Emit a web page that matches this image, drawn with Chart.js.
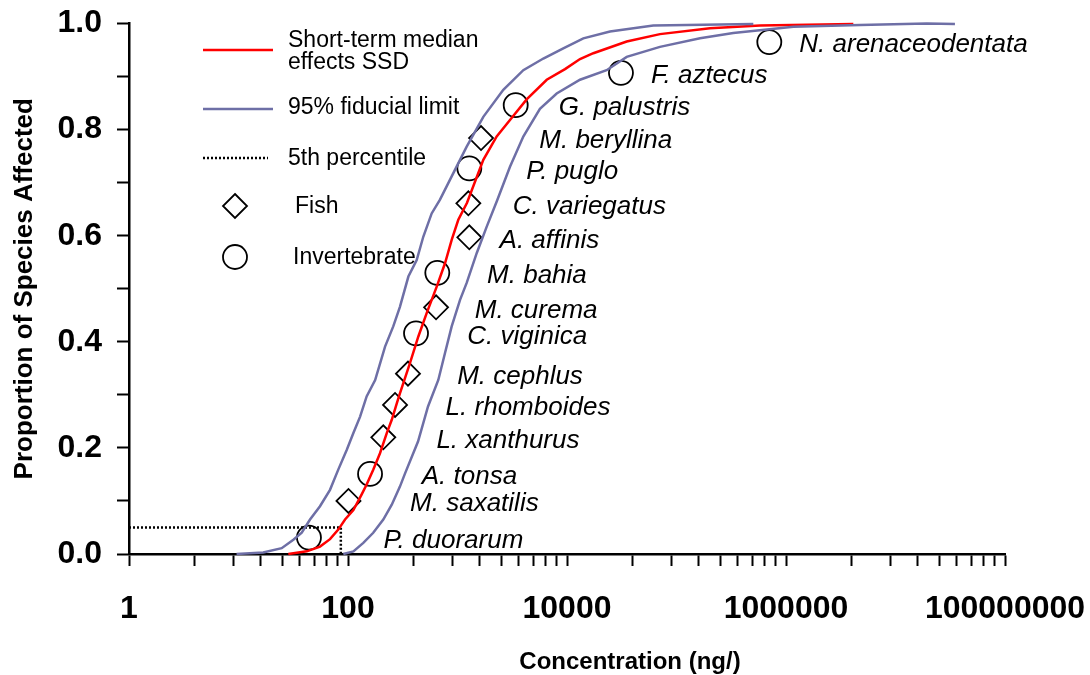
<!DOCTYPE html>
<html lang="en">
<head>
<meta charset="UTF-8">
<title>Short-term median effects SSD</title>
<script src="https://cdn.jsdelivr.net/npm/chart.js"></script>
<style>
  html, body { margin: 0; padding: 0; background: #fff; }
  #wrap { width: 1090px; height: 675px; }
</style>
</head>
<body>
<div id="wrap"><canvas id="ssdChart" width="1090" height="675"></canvas></div>
<script>
// fish species (diamonds)
const fishNames = ['M. saxatilis', 'L. xanthurus', 'L. rhomboides', 'M. cephlus', 'M. curema', 'A. affinis', 'C. variegatus', 'M. beryllina'];
const fishConc = [101, 210, 269, 353, 637, 1282, 1256, 1640];
const fishProp = [0.100, 0.220, 0.281, 0.340, 0.465, 0.597, 0.661, 0.784];

// invertebrate species (circles)
const invNames = ['P. duorarum', 'A. tonsa', 'C. viginica', 'M. bahia', 'P. puglo', 'G. palustris', 'F. aztecus', 'N. arenaceodentata'];
const invConc = [44, 159, 418, 654, 1282, 3400, 31100, 704000];
const invProp = [0.031, 0.151, 0.416, 0.530, 0.727, 0.846, 0.907, 0.965];

// short-term median effects SSD (red)
const medianConc = [28.5, 42, 55.5, 68.5, 81.5, 94, 112, 133, 148, 170, 196, 226, 251, 279, 298, 368, 439, 523, 646, 769, 885, 1017, 1222, 1721, 2280, 3015, 4280, 6530, 9590, 13150, 17400, 35100, 70600, 202000, 580000, 4120000];
const medianProp = [0, 0.005, 0.014, 0.028, 0.046, 0.065, 0.083, 0.112, 0.131, 0.159, 0.190, 0.228, 0.253, 0.284, 0.303, 0.360, 0.410, 0.454, 0.504, 0.548, 0.592, 0.630, 0.662, 0.743, 0.787, 0.818, 0.857, 0.894, 0.914, 0.933, 0.944, 0.966, 0.980, 0.991, 0.996, 0.999];

// 95% fiducial limits (blue), left and right of the median
const fidLowConc = [9.6, 16.8, 24.8, 31.7, 37.8, 45, 55.5, 68.5, 81.5, 97.3, 112, 129, 148, 177, 218, 259, 298, 356, 424, 487, 581, 692, 916, 1213, 1721, 2620, 3990, 6080, 9250, 14100, 24700, 61400, 503000];
const fidLowProp = [0, 0.003, 0.011, 0.027, 0.040, 0.065, 0.090, 0.121, 0.159, 0.196, 0.228, 0.259, 0.297, 0.328, 0.391, 0.429, 0.466, 0.523, 0.554, 0.598, 0.642, 0.668, 0.718, 0.768, 0.824, 0.875, 0.912, 0.934, 0.953, 0.972, 0.985, 0.996, 0.999];
const fidHighConc = [90.6, 112, 138, 170, 210, 251, 298, 332, 436, 538, 668, 769, 885, 1055, 1213, 1497, 1849, 2295, 3015, 3990, 5660, 8050, 13150, 23000, 35100, 70600, 164000, 330000, 1170000, 4740000, 19300000, 34900000];
const fidHighProp = [0, 0.005, 0.021, 0.040, 0.065, 0.093, 0.127, 0.152, 0.212, 0.278, 0.328, 0.379, 0.429, 0.479, 0.511, 0.567, 0.617, 0.666, 0.730, 0.787, 0.839, 0.868, 0.894, 0.912, 0.937, 0.956, 0.972, 0.982, 0.994, 0.997, 1.0, 0.999];

// 5th percentile (HC5) guide
const hc5Conc = [1, 86, 86];
const hc5Prop = [0.05, 0.05, 0];

// axis ticks
const xMajorTicks = [1, 100, 10000, 1000000, 100000000];
const xMinorSteps = [4, 9, 16, 25, 36, 49, 64, 81];

const FONT = "'Liberation Sans', Arial, sans-serif";
const RED = '#ff0000';
const BLUE = '#6e6fa6';

function pts(xs, ys) {
  return xs.map((x, i) => ({ x: x, y: ys[i] }));
}

const curve = { showLine: true, pointRadius: 0, pointHoverRadius: 0, tension: 0, fill: false, clip: false };
const marker = { showLine: false, pointRadius: 12, pointHoverRadius: 12, pointBackgroundColor: '#fff', pointBorderColor: '#000', pointBorderWidth: 1.8, clip: false };

// x pixel of a drawn curve at a given y pixel (for placing the species names)
function curveXAt(chart, dsIndex, py) {
  const els = chart.getDatasetMeta(dsIndex).data;
  for (let i = 1; i < els.length; i++) {
    const a = els[i - 1], b = els[i];
    if ((py <= a.y && py >= b.y) || (py >= a.y && py <= b.y)) {
      if (a.y === b.y) return a.x;
      return a.x + (b.x - a.x) * (py - a.y) / (b.y - a.y);
    }
  }
  return els[els.length - 1].x;
}

function diamond(ctx, x, y, r) {
  ctx.beginPath();
  ctx.moveTo(x, y - r); ctx.lineTo(x + r, y); ctx.lineTo(x, y + r); ctx.lineTo(x - r, y);
  ctx.closePath(); ctx.fill(); ctx.stroke();
}
function circle(ctx, x, y, r) {
  ctx.beginPath(); ctx.arc(x, y, r, 0, Math.PI * 2); ctx.fill(); ctx.stroke();
}

const annotate = {
  id: 'annotate',
  afterDatasetsDraw(chart) {
    const ctx = chart.ctx, xs = chart.scales.x, ys = chart.scales.y;
    ctx.save();

    // species names, set off to the right of the right-hand fiducial curve
    ctx.fillStyle = '#000';
    ctx.font = 'italic 26px ' + FONT;
    ctx.textAlign = 'left';
    ctx.textBaseline = 'middle';
    const names = (list, conc, prop) => list.forEach((n, i) => {
      const px = xs.getPixelForValue(conc[i]);
      const py = ys.getPixelForValue(prop[i]) + 3;
      const lx = Math.max(curveXAt(chart, 1, py) + 18, px + 30);
      ctx.fillText(n, lx, py);
    });
    names(fishNames, fishConc, fishProp);
    names(invNames, invConc, invProp);

    // legend
    ctx.font = '23px ' + FONT;
    ctx.lineWidth = 2.5;
    ctx.strokeStyle = RED;
    ctx.beginPath(); ctx.moveTo(203, 50); ctx.lineTo(273, 50); ctx.stroke();
    ctx.fillText('Short-term median', 288, 41);
    ctx.fillText('effects SSD', 288, 63);
    ctx.strokeStyle = BLUE;
    ctx.beginPath(); ctx.moveTo(203, 109); ctx.lineTo(273, 109); ctx.stroke();
    ctx.fillText('95% fiducial limit', 288, 108);
    ctx.strokeStyle = '#000';
    ctx.lineWidth = 2.5;
    ctx.setLineDash([2, 2]);
    ctx.beginPath(); ctx.moveTo(203, 158); ctx.lineTo(268, 158); ctx.stroke();
    ctx.setLineDash([]);
    ctx.fillText('5th percentile', 288, 159);
    ctx.fillStyle = '#fff';
    ctx.lineWidth = 1.8;
    diamond(ctx, 235, 206, 12);
    circle(ctx, 235, 257, 12);
    ctx.fillStyle = '#000';
    ctx.fillText('Fish', 295, 207);
    ctx.fillText('Invertebrate', 293, 258);

    // x axis title
    ctx.font = 'bold 24px ' + FONT;
    ctx.textAlign = 'center';
    ctx.fillText('Concentration (ng/)', (chart.chartArea.left + chart.chartArea.right) / 2 + 63, 662);
    ctx.restore();
  }
};

new Chart(document.getElementById('ssdChart'), {
  type: 'scatter',
  data: {
    datasets: [
      Object.assign({ label: '95% fiducial limit', data: pts(fidLowConc, fidLowProp), borderColor: BLUE, borderWidth: 2.5 }, curve),
      Object.assign({ label: '95% fiducial limit', data: pts(fidHighConc, fidHighProp), borderColor: BLUE, borderWidth: 2.5 }, curve),
      Object.assign({ label: 'Short-term median effects SSD', data: pts(medianConc, medianProp), borderColor: RED, borderWidth: 2.5 }, curve),
      Object.assign({ label: '5th percentile', data: pts(hc5Conc, hc5Prop), borderColor: '#000', borderWidth: 2.5, borderDash: [2, 2] }, curve),
      Object.assign({ label: 'Fish', data: pts(fishConc, fishProp), pointStyle: 'rectRot' }, marker),
      Object.assign({ label: 'Invertebrate', data: pts(invConc, invProp), pointStyle: 'circle' }, marker)
    ]
  },
  options: {
    responsive: false,
    animation: false,
    events: [],
    layout: { autoPadding: false, padding: { left: 0, top: 23.5, right: 85, bottom: 0 } },
    plugins: { legend: { display: false }, tooltip: { enabled: false } },
    scales: {
      x: {
        type: 'logarithmic',
        min: 1,
        max: 100000000,
        afterBuildTicks: s => {
          const t = [];
          xMajorTicks.forEach((m, i) => {
            t.push({ value: m, major: true });
            if (i < xMajorTicks.length - 1) xMinorSteps.forEach(k => t.push({ value: m * k, major: false }));
          });
          s.ticks = t;
        },
        afterFit: s => { s.height = 121; s.paddingLeft = 0; s.paddingRight = 0; },
        ticks: {
          autoSkip: false, maxRotation: 0, minRotation: 0, padding: 24, color: '#000',
          font: { family: FONT, size: 32, weight: 'bold' },
          callback: v => xMajorTicks.includes(v) ? String(v) : ''
        },
        grid: { drawOnChartArea: false, drawTicks: true, tickLength: 12, tickColor: '#000', tickWidth: 2 },
        border: { display: true, color: '#000', width: 2.5 },
        title: { display: false }
      },
      y: {
        type: 'linear',
        min: 0,
        max: 1,
        afterFit: s => { s.width = 129; s.paddingTop = 0; s.paddingBottom = 0; },
        ticks: {
          stepSize: 0.1, autoSkip: false, padding: 15, color: '#000',
          font: { family: FONT, size: 32, weight: 'bold' },
          callback: (v, i) => i % 2 === 0 ? v.toFixed(1) : ''
        },
        grid: { drawOnChartArea: false, drawTicks: true, tickLength: 12, tickColor: '#000', tickWidth: 2 },
        border: { display: true, color: '#000', width: 2.5 },
        title: {
          display: true, text: 'Proportion of Species Affected', color: '#000',
          font: { family: FONT, size: 26, weight: 'bold' },
          padding: { top: 9, bottom: 0 }
        }
      }
    }
  },
  plugins: [annotate]
});
</script>
</body>
</html>
